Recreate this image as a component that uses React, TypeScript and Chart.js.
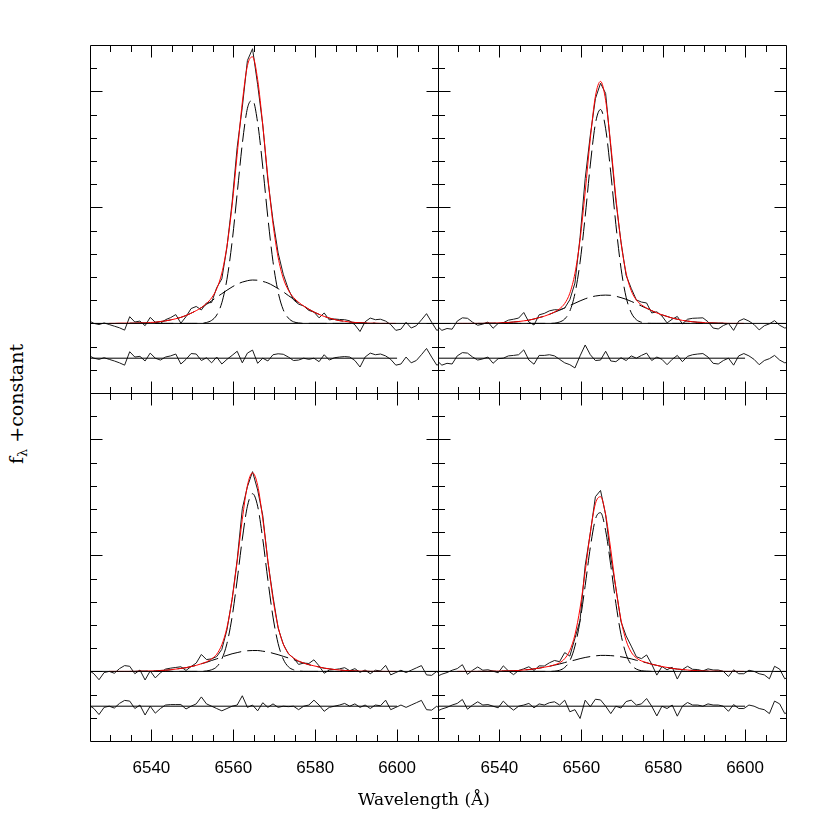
import React, { useEffect, useRef } from 'react';
import { Chart, registerables } from 'chart.js';

Chart.register(...registerables);

// ---------- data ----------
const wave = [
  6524.7, 6525.95, 6527.2, 6528.45, 6529.7, 6530.95, 6532.2, 6533.45, 6534.7, 6535.95,
  6537.2, 6538.45, 6539.7, 6540.95, 6542.2, 6543.45, 6544.7, 6545.95, 6547.2, 6548.45,
  6549.7, 6550.95, 6552.2, 6553.45, 6554.7, 6555.95, 6557.2, 6558.45, 6559.7, 6560.95,
  6562.2, 6563.45, 6564.7, 6565.95, 6567.2, 6568.45, 6569.7, 6570.95, 6572.2, 6573.45,
  6574.7, 6575.95, 6577.2, 6578.45, 6579.7, 6580.95, 6582.2, 6583.45, 6584.7, 6585.95,
  6587.2, 6588.45, 6589.7, 6590.95, 6592.2, 6593.45, 6594.7, 6595.95, 6597.2, 6598.45,
  6599.7, 6600.95, 6602.2, 6603.45, 6604.7, 6605.95, 6607.2, 6608.45, 6609.7, 6610.95,
];

// observed spectra (flux + constant)
const spec1 = [
  0.12, 0.00, -0.05, 0.02, -0.05, -0.12, -0.19, -0.29, 0.29, 0.06,
  0.10, -0.10, 0.26, 0.05, 0.00, 0.16, 0.25, 0.38, 0.01, 0.29,
  0.64, 0.73, 0.58, 0.88, 0.90, 1.54, 1.92, 3.28, 5.19, 7.59,
  9.32, 11.33, 11.84, 10.29, 8.55, 6.17, 4.44, 3.04, 2.12, 1.48,
  1.02, 0.83, 0.75, 0.56, 0.49, 0.24, 0.45, 0.15, 0.19, 0.17,
  0.16, 0.11, -0.06, -0.35, 0.07, 0.23, 0.16, 0.18, 0.10, -0.05,
  -0.30, -0.25, 0.05, -0.20, -0.10, 0.15, 0.42, 0.05, -0.30, -0.20,
];
const spec2 = [
  -0.10, -0.30, -0.22, -0.25, 0.10, 0.24, 0.22, 0.05, -0.08, -0.03,
  0.06, -0.21, 0.00, 0.03, 0.14, 0.18, 0.23, 0.47, 0.06, -0.07,
  0.37, 0.43, 0.54, 0.59, 0.58, 0.66, 1.02, 1.74, 3.71, 6.24,
  8.11, 9.69, 10.35, 9.91, 7.58, 5.28, 3.51, 2.07, 1.51, 1.01,
  0.92, 0.88, 0.45, 0.50, 0.32, 0.02, 0.18, 0.30, -0.02, 0.18,
  0.22, 0.23, 0.24, 0.07, -0.20, -0.24, -0.09, 0.00, -0.30, 0.10,
  0.20, 0.10, -0.05, -0.28, -0.10, -0.02, 0.12, -0.08, -0.20, -0.15,
];
const spec3 = [
  0.05, -0.10, -0.36, -0.05, 0.00, -0.08, 0.12, 0.25, 0.22, -0.10,
  0.06, -0.37, 0.02, -0.28, -0.06, 0.10, 0.14, 0.17, 0.20, 0.04,
  0.21, 0.36, 0.73, 0.51, 0.54, 0.64, 0.95, 1.79, 3.10, 4.80,
  7.01, 7.96, 8.61, 7.82, 6.72, 4.73, 3.22, 1.87, 1.18, 0.76,
  0.58, 0.30, 0.36, 0.34, 0.50, 0.24, -0.08, 0.06, 0.08, 0.11,
  0.16, 0.03, 0.12, -0.04, 0.06, -0.10, 0.05, 0.02, 0.26, -0.15,
  -0.05, 0.05, -0.05, 0.05, 0.15, 0.25, -0.15, -0.17, 0.00, -0.20,
];
const spec4 = [
  -0.22, -0.12, -0.05, 0.05, 0.12, 0.29, -0.13, 0.05, 0.19, 0.05,
  0.07, 0.01, -0.06, 0.24, 0.02, -0.14, 0.04, 0.11, 0.20, 0.04,
  0.24, 0.23, 0.37, 0.47, 0.42, 0.81, 0.66, 1.43, 2.20, 4.56,
  5.96, 7.53, 7.80, 6.75, 4.93, 3.59, 2.14, 1.53, 1.09, 0.63,
  0.55, 0.71, 0.31, -0.16, 0.21, 0.07, 0.18, -0.33, 0.08, 0.22,
  0.09, 0.08, 0.02, 0.11, 0.06, 0.06, 0.00, -0.22, 0.07, -0.10,
  -0.10, 0.05, 0.00, -0.10, -0.15, -0.32, 0.22, 0.10, -0.32, -0.20,
];

// residuals (data - fit)
const resid1 = [
  0.12, 0.00, -0.05, 0.02, -0.05, -0.12, -0.20, -0.30, 0.28, 0.05,
  0.08, -0.12, 0.22, 0.00, -0.08, 0.05, 0.10, 0.18, -0.25, -0.05,
  0.20, 0.18, -0.10, 0.02, -0.20, 0.05, -0.25, -0.05, 0.12, 0.30,
  -0.20, 0.22, 0.35, -0.22, 0.00, -0.12, 0.15, 0.19, 0.17, 0.05,
  -0.10, -0.08, 0.00, -0.05, 0.00, -0.15, 0.15, -0.08, 0.02, 0.05,
  0.07, 0.05, -0.10, -0.38, 0.05, 0.22, 0.15, 0.18, 0.10, -0.05,
  -0.30, -0.25, 0.05, -0.20, -0.10, 0.15, 0.42, 0.05, -0.30, -0.20,
];
const resid2 = [
  -0.10, -0.30, -0.22, -0.25, 0.10, 0.24, 0.22, 0.05, -0.08, -0.03,
  0.05, -0.22, -0.02, 0.00, 0.10, 0.12, 0.15, 0.36, -0.08, -0.26,
  0.12, 0.12, 0.15, 0.10, -0.05, -0.20, -0.28, -0.42, 0.10, 0.57,
  0.15, -0.10, -0.08, 0.30, -0.12, -0.15, 0.02, -0.10, 0.10, 0.00,
  0.12, 0.22, -0.10, 0.05, -0.05, -0.28, -0.05, 0.12, -0.15, 0.08,
  0.15, 0.18, 0.20, 0.05, -0.22, -0.25, -0.10, 0.00, -0.30, 0.10,
  0.20, 0.10, -0.05, -0.28, -0.10, -0.02, 0.12, -0.08, -0.20, -0.15,
];
const resid3 = [
  0.05, -0.10, -0.36, -0.05, 0.00, -0.08, 0.12, 0.25, 0.22, -0.10,
  0.05, -0.38, 0.00, -0.30, -0.10, 0.05, 0.07, 0.07, 0.07, -0.12,
  0.00, 0.10, 0.40, 0.10, 0.00, -0.10, -0.20, -0.10, 0.00, 0.05,
  0.45, -0.05, 0.05, -0.20, 0.15, -0.05, 0.10, -0.05, 0.00, -0.02,
  0.00, -0.15, 0.00, 0.05, 0.26, 0.05, -0.22, -0.05, 0.00, 0.05,
  0.12, 0.00, 0.10, -0.05, 0.05, -0.10, 0.05, 0.02, 0.26, -0.15,
  -0.05, 0.05, -0.05, 0.05, 0.15, 0.25, -0.15, -0.17, 0.00, -0.20,
];
const resid4 = [
  -0.22, -0.12, -0.05, 0.05, 0.12, 0.29, -0.13, 0.05, 0.19, 0.05,
  0.07, 0.00, -0.07, 0.22, 0.00, -0.17, 0.00, 0.05, 0.12, -0.07,
  0.10, 0.05, 0.15, 0.19, 0.05, 0.26, -0.24, -0.15, -0.53, 0.26,
  -0.02, 0.30, 0.27, 0.00, -0.32, 0.00, -0.08, 0.20, 0.26, 0.05,
  0.10, 0.33, 0.00, -0.42, 0.00, -0.10, 0.05, -0.43, 0.00, 0.16,
  0.05, 0.05, 0.00, 0.10, 0.05, 0.05, 0.00, -0.22, 0.07, -0.10,
  -0.10, 0.05, 0.00, -0.10, -0.15, -0.32, 0.22, 0.10, -0.32, -0.20,
];

// total fit (red), on wave[4..60]
const fit1 = [
  0.00, 0.00, 0.01, 0.01,
  0.01, 0.01, 0.02, 0.02, 0.04, 0.05, 0.08, 0.11, 0.15, 0.20,
  0.26, 0.34, 0.44, 0.55, 0.68, 0.86, 1.10, 1.49, 2.17, 3.33,
  5.07, 7.29, 9.52, 11.11, 11.49, 10.51, 8.55, 6.29, 4.29, 2.85,
  1.95, 1.43, 1.12, 0.91, 0.75, 0.61, 0.49, 0.39, 0.30, 0.23,
  0.17, 0.12, 0.09, 0.06, 0.04, 0.03, 0.02, 0.01, 0.01,
  0.00, 0.00, 0.00, 0.00,
];
const fit2 = [
  0.00, 0.00, 0.00, 0.00,
  0.00, 0.00, 0.01, 0.01, 0.02, 0.03, 0.04, 0.06, 0.08, 0.11,
  0.14, 0.19, 0.25, 0.31, 0.39, 0.49, 0.63, 0.86, 1.30, 2.16,
  3.61, 5.67, 7.96, 9.79, 10.43, 9.61, 7.70, 5.43, 3.49, 2.17,
  1.41, 1.01, 0.80, 0.66, 0.55, 0.45, 0.37, 0.30, 0.23, 0.18,
  0.13, 0.10, 0.07, 0.05, 0.04, 0.02, 0.02, 0.01, 0.01,
  0.00, 0.00, 0.00, 0.00,
];
const fit3 = [
  0.00, 0.00, 0.00, 0.00,
  0.00, 0.00, 0.01, 0.01, 0.02, 0.02, 0.04, 0.05, 0.07, 0.10,
  0.13, 0.16, 0.21, 0.26, 0.33, 0.41, 0.54, 0.74, 1.15, 1.89,
  3.10, 4.75, 6.56, 8.01, 8.56, 8.02, 6.57, 4.78, 3.12, 1.92,
  1.18, 0.78, 0.58, 0.45, 0.36, 0.29, 0.24, 0.19, 0.14, 0.11,
  0.08, 0.06, 0.04, 0.03, 0.02, 0.01, 0.01, 0.00, 0.00,
  0.00, 0.00, 0.00, 0.00,
];
const fit4 = [
  0.00, 0.00, 0.00, 0.00,
  0.00, 0.00, 0.00, 0.01, 0.01, 0.02, 0.02, 0.03, 0.04, 0.06,
  0.08, 0.11, 0.14, 0.18, 0.22, 0.28, 0.37, 0.55, 0.90, 1.58,
  2.73, 4.30, 5.98, 7.23, 7.53, 6.75, 5.25, 3.59, 2.22, 1.33,
  0.83, 0.58, 0.45, 0.38, 0.31, 0.26, 0.21, 0.17, 0.13, 0.10,
  0.08, 0.06, 0.04, 0.03, 0.02, 0.01, 0.01, 0.01, 0.00,
  0.00, 0.00, 0.00, 0.00,
];

// narrow component (dashed), on wave[13..52]
const narrow1 = [
  0, 0, 0, 0, 0, 0, 0, 0, 0, 0,
  0.04, 0.13, 0.36, 0.89, 1.90, 3.50, 5.60, 7.74, 9.27, 9.62,
  8.65, 6.74, 4.55, 2.66, 1.35, 0.59, 0.23, 0.07, 0.02,
  0, 0, 0, 0, 0, 0, 0, 0, 0, 0, 0,
];
const narrow2 = [
  0, 0, 0, 0, 0, 0, 0, 0, 0, 0,
  0.01, 0.06, 0.19, 0.53, 1.29, 2.64, 4.61, 6.83, 8.61, 9.22,
  8.39, 6.49, 4.26, 2.38, 1.13, 0.46, 0.16, 0.05, 0.01,
  0, 0, 0, 0, 0, 0, 0, 0, 0, 0, 0,
];
const narrow3 = [
  0, 0, 0, 0, 0, 0, 0, 0, 0, 0,
  0.02, 0.07, 0.20, 0.53, 1.20, 2.34, 3.94, 5.70, 7.12, 7.66,
  7.12, 5.70, 3.94, 2.34, 1.20, 0.53, 0.20, 0.07, 0.02,
  0, 0, 0, 0, 0, 0, 0, 0, 0, 0, 0,
];
const narrow4 = [
  0, 0, 0, 0, 0, 0, 0, 0, 0, 0,
  0.01, 0.05, 0.17, 0.46, 1.09, 2.18, 3.70, 5.34, 6.56, 6.84,
  6.06, 4.57, 2.93, 1.59, 0.74, 0.29, 0.10, 0.03, 0.01,
  0, 0, 0, 0, 0, 0, 0, 0, 0, 0, 0,
];

// broad component (dashed), on wave[8..56]
const broad1 = [
  0.01, 0.01, 0.02, 0.02, 0.04, 0.05, 0.08, 0.11, 0.15, 0.20,
  0.26, 0.34, 0.44, 0.55, 0.68, 0.82, 0.97, 1.13, 1.28, 1.43,
  1.57, 1.69, 1.78, 1.84, 1.87, 1.86, 1.81, 1.74, 1.63, 1.50,
  1.36, 1.20, 1.05, 0.89, 0.75, 0.61, 0.49, 0.39, 0.30, 0.23,
  0.17, 0.12, 0.09, 0.06, 0.04, 0.03, 0.02, 0.01, 0.01,
];
const broad2 = [
  0.00, 0.00, 0.01, 0.01, 0.02, 0.03, 0.04, 0.06, 0.08, 0.11,
  0.14, 0.19, 0.25, 0.31, 0.39, 0.48, 0.57, 0.67, 0.77, 0.87,
  0.97, 1.06, 1.13, 1.18, 1.21, 1.22, 1.21, 1.17, 1.11, 1.04,
  0.95, 0.85, 0.75, 0.65, 0.55, 0.45, 0.37, 0.30, 0.23, 0.18,
  0.13, 0.10, 0.07, 0.05, 0.04, 0.02, 0.02, 0.01, 0.01,
];
const broad3 = [
  0.00, 0.00, 0.01, 0.01, 0.02, 0.02, 0.04, 0.05, 0.07, 0.10,
  0.13, 0.16, 0.21, 0.26, 0.33, 0.39, 0.47, 0.54, 0.62, 0.69,
  0.76, 0.81, 0.86, 0.89, 0.90, 0.90, 0.87, 0.84, 0.78, 0.72,
  0.65, 0.58, 0.51, 0.43, 0.36, 0.29, 0.24, 0.19, 0.14, 0.11,
  0.08, 0.06, 0.04, 0.03, 0.02, 0.01, 0.01, 0.00, 0.00,
];
const broad4 = [
  0.00, 0.00, 0.00, 0.01, 0.01, 0.02, 0.02, 0.03, 0.04, 0.06,
  0.08, 0.11, 0.14, 0.18, 0.22, 0.27, 0.32, 0.38, 0.44, 0.49,
  0.55, 0.60, 0.64, 0.67, 0.69, 0.69, 0.68, 0.66, 0.63, 0.59,
  0.54, 0.48, 0.42, 0.37, 0.31, 0.26, 0.21, 0.17, 0.13, 0.10,
  0.08, 0.06, 0.04, 0.03, 0.02, 0.01, 0.01, 0.01, 0.00,
];

const fitWave = wave.slice(4, 61);
const narrowWave = wave.slice(13, 53);
const broadWave = wave.slice(8, 57);

const xTickMinor = [6530, 6535, 6540, 6545, 6550, 6555, 6560, 6565, 6570, 6575, 6580, 6585, 6590, 6595, 6600, 6605];
const xTickMajor = [6540, 6560, 6580, 6600];
const xTickLabels = ['6540', '6560', '6580', '6600'];
const yTickMinor = [-2, -1, 0, 1, 2, 3, 4, 5, 6, 7, 8, 9, 10, 11];
const yTickMajor = [0, 5, 10];

const X_MIN = 6525, X_MAX = 6610, Y_MIN = -3, Y_MAX = 12;
const RESID_OFFSET = -1.5;
const RESID_LINE_END = 6600;

const panelSeries = [
  { spec: spec1, resid: resid1, fit: fit1, narrow: narrow1, broad: broad1 },
  { spec: spec2, resid: resid2, fit: fit2, narrow: narrow2, broad: broad2 },
  { spec: spec3, resid: resid3, fit: fit3, narrow: narrow3, broad: broad3 },
  { spec: spec4, resid: resid4, fit: fit4, narrow: narrow4, broad: broad4 },
];

// ---------- layout ----------
const PANEL = 348;
const PAD = 10;
const LABEL_SPACE = 44;
const panelBoxes = [
  { left: 90, top: 45, labels: false },
  { left: 438, top: 45, labels: false },
  { left: 90, top: 393, labels: true },
  { left: 438, top: 393, labels: true },
];

const frameTicks = {
  id: 'frameTicks',
  afterDatasetsDraw(chart: any, _args: any, opts: any) {
    const { ctx, chartArea: a, scales } = chart;
    const xs = scales.x, ys = scales.y;
    const L = Math.round(a.left) + 0.5;
    const R = Math.round(a.right) + 0.5;
    const T = Math.round(a.top) + 0.5;
    const B = Math.round(a.bottom) + 0.5;
    ctx.save();
    ctx.strokeStyle = '#000';
    ctx.lineWidth = 1;
    ctx.beginPath();
    ctx.rect(L, T, R - L, B - T);
    for (const v of xTickMinor) {
      const px = Math.round(xs.getPixelForValue(v)) + 0.5;
      const len = xTickMajor.includes(v) ? 12 : 6.5;
      ctx.moveTo(px, B); ctx.lineTo(px, B - len);
      ctx.moveTo(px, T); ctx.lineTo(px, T + len);
    }
    for (const v of yTickMinor) {
      const py = Math.round(ys.getPixelForValue(v)) + 0.5;
      const len = yTickMajor.includes(v) ? 12 : 6.5;
      ctx.moveTo(L, py); ctx.lineTo(L + len, py);
      ctx.moveTo(R, py); ctx.lineTo(R - len, py);
    }
    ctx.stroke();
    if (opts && opts.labels) {
      ctx.fillStyle = '#000';
      ctx.font = '17px "Liberation Sans", Arial, sans-serif';
      ctx.textAlign = 'center';
      ctx.textBaseline = 'middle';
      xTickMajor.forEach((v, k) => {
        ctx.fillText(xTickLabels[k], xs.getPixelForValue(v), B + 27);
      });
    }
    ctx.restore();
  },
};

function pts(xs: number[], ys: number[], off = 0) {
  return ys.map((v, k) => ({ x: xs[k], y: v + off }));
}

function Panel({ index }: { index: number }) {
  const ref = useRef<HTMLCanvasElement | null>(null);
  const box = panelBoxes[index];
  const s = panelSeries[index];
  const w = PANEL + 2 * PAD;
  const h = PANEL + 2 * PAD + (box.labels ? LABEL_SPACE : 0);

  useEffect(() => {
    if (!ref.current) return;
    const dashed = [18, 6];
    const chart = new Chart(ref.current, {
      type: 'line',
      data: {
        datasets: [
          { label: 'continuum', data: [{ x: 6520, y: 0 }, { x: 6615, y: 0 }], borderColor: '#000', borderWidth: 1, order: 0 },
          { label: 'residual zero', data: [{ x: 6520, y: RESID_OFFSET }, { x: RESID_LINE_END, y: RESID_OFFSET }], borderColor: '#000', borderWidth: 1, order: 0 },
          { label: 'total fit', data: pts(fitWave, s.fit), borderColor: '#ff0000', borderWidth: 1, cubicInterpolationMode: 'monotone', order: 1 },
          { label: 'spectrum', data: pts(wave, s.spec), borderColor: '#1a1a1a', borderWidth: 1, order: 2 },
          { label: 'residual', data: pts(wave, s.resid, RESID_OFFSET), borderColor: '#1a1a1a', borderWidth: 1, order: 2 },
          { label: 'narrow', data: pts(narrowWave, s.narrow), borderColor: '#000', borderWidth: 1, borderDash: dashed, cubicInterpolationMode: 'monotone', order: 3 },
          { label: 'broad', data: pts(broadWave, s.broad), borderColor: '#000', borderWidth: 1, borderDash: dashed, cubicInterpolationMode: 'monotone', order: 3 },
        ] as any,
      },
      options: {
        responsive: false,
        animation: false,
        events: [],
        layout: { padding: { left: PAD, right: PAD, top: PAD, bottom: PAD + (box.labels ? LABEL_SPACE : 0) } },
        elements: { point: { radius: 0 }, line: { tension: 0, fill: false } },
        scales: {
          x: { type: 'linear', min: X_MIN, max: X_MAX, display: false },
          y: { type: 'linear', min: Y_MIN, max: Y_MAX, display: false },
        },
        plugins: {
          legend: { display: false },
          tooltip: { enabled: false },
          frameTicks: { labels: box.labels },
        } as any,
      },
      plugins: [frameTicks],
    });
    return () => chart.destroy();
  }, [index]);

  return (
    <canvas
      ref={ref}
      width={w}
      height={h}
      style={{ position: 'absolute', left: box.left - PAD, top: box.top - PAD, width: w, height: h }}
    />
  );
}

export default function App() {
  return (
    <div style={{ position: 'absolute', left: 0, top: 0, width: 830, height: 830, background: '#fff', overflow: 'hidden' }}>
      {[0, 1, 2, 3].map((i) => (
        <Panel key={i} index={i} />
      ))}
      <div
        style={{
          position: 'absolute', left: 424, top: 799, transform: 'translate(-50%, -50%)',
          fontFamily: '"DejaVu Serif", serif', fontSize: 17, whiteSpace: 'nowrap', color: '#000', lineHeight: 1,
        }}
      >
        Wavelength (Å)
      </div>
      <div
        style={{
          position: 'absolute', left: 18, top: 404, transform: 'translate(-50%, -50%) rotate(-90deg)',
          fontFamily: '"DejaVu Serif", serif', fontSize: 19, whiteSpace: 'nowrap', color: '#000', lineHeight: 1,
        }}
      >
        f<sub style={{ fontSize: 13, verticalAlign: '-0.35em' }}>λ</sub> +constant
      </div>
    </div>
  );
}
